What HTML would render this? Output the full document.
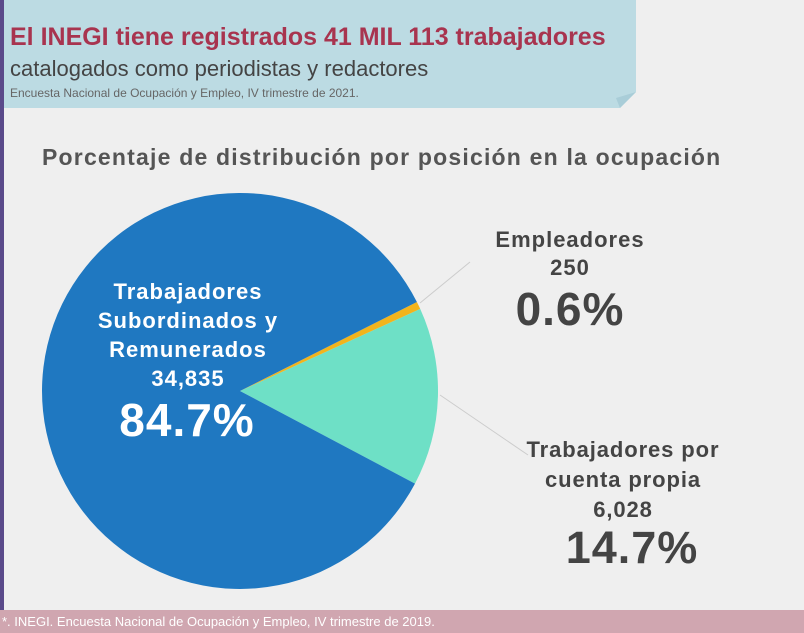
<!DOCTYPE html>
<html><head><meta charset="utf-8"><style>
body{margin:0;width:804px;height:633px;overflow:hidden;background:#efefef;font-family:"Liberation Sans",sans-serif;position:relative}
.t{position:absolute;white-space:nowrap}
</style></head><body>
<div style="position:absolute;left:0;top:0;width:4px;height:633px;background:#5a4a8a"></div>
<div style="position:absolute;left:4px;top:0;width:632px;height:108px;background:#bcdbe3"></div>
<svg style="position:absolute;left:0;top:0" width="804" height="633">
<polygon points="636,92 636,108 620,108" fill="#efefef"/>
<polygon points="636,92 620,108 616,98" fill="#a9cdd8"/>
<path d="M240,391 L420.2,308.9 A198,198 0 0,1 415,483.6 Z" fill="#6ee0c6"/>
<path d="M240,391 L416.9,302 A198,198 0 0,1 420.2,308.9 Z" fill="#f2b41c"/>
<path d="M240,391 L415,483.6 A198,198 0 1,1 416.9,302 Z" fill="#1f78c1"/>
<line x1="420" y1="303" x2="470" y2="262" stroke="#ccc" stroke-width="1"/>
<line x1="440" y1="395" x2="528" y2="455" stroke="#ccc" stroke-width="1"/>
</svg>
<div class="t" style="left:10px;top:23px;font-size:25px;font-weight:bold;color:#a8344f">El INEGI tiene registrados 41 MIL 113 trabajadores</div>
<div class="t" style="left:10px;top:56px;font-size:22px;color:#444">catalogados como periodistas y redactores</div>
<div class="t" style="left:10px;top:86px;font-size:12px;color:#666">Encuesta Nacional de Ocupación y Empleo, IV trimestre de 2021.</div>
<div class="t" style="left:42px;top:144px;font-size:23px;letter-spacing:1.2px;font-weight:bold;color:#555">Porcentaje de distribución por posición en la ocupación</div>
<div class="t" style="left:68px;top:277px;width:240px;text-align:center;font-size:22px;letter-spacing:1px;font-weight:bold;color:#fff;line-height:29px">Trabajadores<br>Subordinados y<br>Remunerados<br>34,835</div>
<div class="t" style="left:67px;top:393px;width:240px;text-align:center;font-size:46px;letter-spacing:1px;font-weight:bold;color:#fff">84.7%</div>
<div class="t" style="left:485px;top:226px;width:170px;text-align:center;font-size:22px;letter-spacing:1px;font-weight:bold;color:#444;line-height:28px">Empleadores<br>250</div>
<div class="t" style="left:485px;top:282px;width:170px;text-align:center;font-size:46px;letter-spacing:1px;font-weight:bold;color:#444">0.6%</div>
<div class="t" style="left:508px;top:435px;width:230px;text-align:center;font-size:22px;letter-spacing:0.9px;font-weight:bold;color:#444;line-height:30px">Trabajadores por<br>cuenta propia<br>6,028</div>
<div class="t" style="left:517px;top:522px;width:230px;text-align:center;font-size:45px;letter-spacing:1px;font-weight:bold;color:#444">14.7%</div>
<div style="position:absolute;left:0;top:610px;width:804px;height:23px;background:#d0a6b0"></div>
<div class="t" style="left:2px;top:614px;font-size:13px;color:#fff">*. INEGI. Encuesta Nacional de Ocupación y Empleo, IV trimestre de 2019.</div>
</body></html>
